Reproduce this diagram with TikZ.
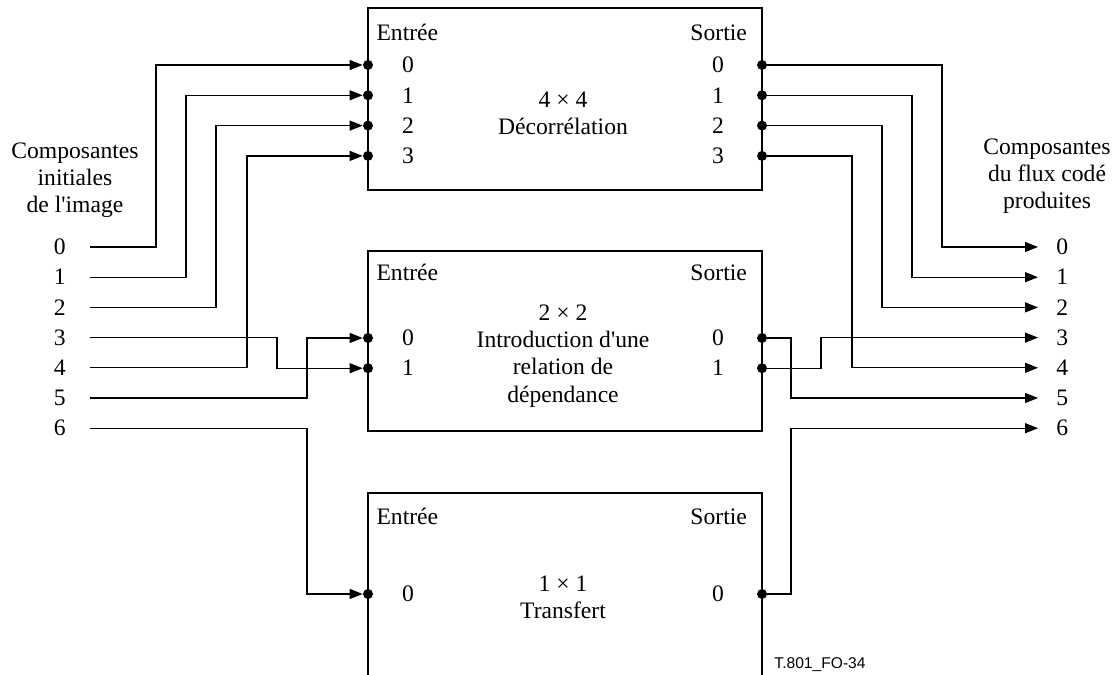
\documentclass[tikz,border=0pt]{standalone}
\usepackage{fontspec}
\setmainfont{Liberation Serif}
\newfontfamily\cmpsans{Liberation Sans}
\usetikzlibrary{arrows.meta, positioning, calc}
\newcommand{\cmpfs}{\fontsize{11.8pt}{13.6pt}\selectfont}
\tikzset{
  cmp/.style = {draw=black, fill=white, line width=0.65pt, minimum width=197pt,
    inner sep=0pt},
  cmpdot/.style = {circle, fill=black, inner sep=0pt, minimum size=5pt},
  cmplig/.style = {draw=black, line width=0.65pt,
    -{Triangle[length=6.5pt, width=5pt]}},
  cmprot/.style = {font=\cmpfs, align=center, inner sep=0pt},
  cmpref/.style = {font=\cmpsans\fontsize{7.8pt}{9pt}\selectfont, inner sep=0pt}
}

\begin{document}
\begin{tikzpicture}[x=0.5pt, y=-0.5pt]
  \useasboundingbox (0,0) rectangle (1117,674);
  \node [cmp, minimum height=91pt] (b1) at (565,99) {};
  \node [cmp, minimum height=90pt] (b2) at (565,341) {};
  \node [cmp, minimum height=104pt] (b3) at (565,597) {};
  \foreach \b/\y in {b1/25, b2/22, b3/24} {
    \node [cmprot] (\b-in) at ([shift={(40,\y)}]\b.north west) {Entrée};
    \node [cmprot] (\b-out) at ([shift={(-44,\y)}]\b.north east) {Sortie};
  }
  \node [cmprot] (b1t) at (563,113) {4 × 4\\Décorrélation};
  \node [cmprot] (b2t) at (563,356) {2 × 2\\Introduction d\textquotesingle une\\relation de\\dépendance};
  \node [cmprot] (b3t) at (563,597) {1 × 1\\Transfert};
  \node [cmprot] (src) at (75,180) {Composantes\\initiales\\de l\textquotesingle image};
  \node [cmprot] (dst) at (1047,176) {Composantes\\du flux codé\\produites};
  \node [cmpref] (ref) at (820,665) {T.801\_FO-34};
  % ports of the three blocks
  \foreach \i in {0,...,3} {
    \node [cmpdot] (b1i\i) at (368,65+30.3*\i) {};
    \node [cmpdot] (b1o\i) at (762,65+30.3*\i) {};
    \node [cmprot] (b1il\i) at (408,65+30.3*\i) {\i};
    \node [cmprot] (b1ol\i) at (718,65+30.3*\i) {\i};
  }
  \foreach \i in {0,1} {
    \node [cmpdot] (b2i\i) at (368,338+30.2*\i) {};
    \node [cmpdot] (b2o\i) at (762,338+30.2*\i) {};
    \node [cmprot] (b2il\i) at (408,338+30.2*\i) {\i};
    \node [cmprot] (b2ol\i) at (718,338+30.2*\i) {\i};
  }
  \node [cmpdot] (b3i0) at (368,594) {};
  \node [cmpdot] (b3o0) at (762,594) {};
  \node [cmprot] (b3il0) at (408,594) {0};
  \node [cmprot] (b3ol0) at (718,594) {0};
  % image components in and codestream components out
  \foreach \i in {0,...,6} {
    \coordinate (s\i) at (90,247+30.2*\i);
    \node [cmprot, left=12pt of s\i] (sl\i) {\i};
    \coordinate (t\i) at (1038,247+30.2*\i);
    \node [cmprot, right=9pt of t\i] (tl\i) {\i};
  }
  \foreach \i/\d in {0/66, 1/96, 2/126} \draw [cmplig] (s\i) -- ++(\d,0) |- (b1i\i);
  \draw [cmplig] (s4) -- ++(157,0) |- (b1i3);
  \draw [cmplig] (s3) -- ++(187,0) |- (b2i1);
  \draw [cmplig] (s5) -- ++(217,0) |- (b2i0);
  \draw [cmplig] (s6) -- ++(217,0) |- (b3i0);
  \foreach \i/\j/\d in {0/0/180, 1/1/150, 2/2/120, 3/4/90} \draw [cmplig] (b1o\i) -- ++(\d,0) |- (t\j);
  \draw [cmplig] (b2o0) -- ++(29,0) |- (t5);
  \draw [cmplig] (b2o1) -- ++(59,0) |- (t3);
  \draw [cmplig] (b3o0) -- ++(29,0) |- (t6);
\end{tikzpicture}
\end{document}
